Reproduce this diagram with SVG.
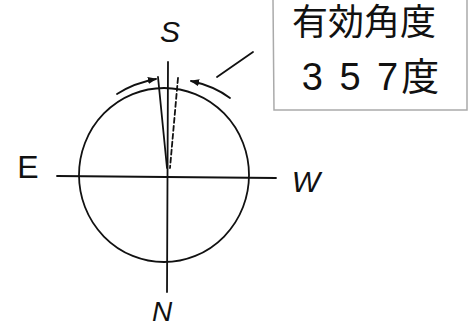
<svg xmlns="http://www.w3.org/2000/svg" width="468" height="326" viewBox="0 0 468 326">
<style>
.ln{stroke:#111;stroke-width:1.8;fill:none;stroke-linecap:round}
.lbl{font-family:"Liberation Sans","Noto Sans CJK JP",sans-serif;fill:#111}
</style>
<defs>
<marker id="ah" viewBox="0 0 10 10" refX="9" refY="5" markerWidth="5" markerHeight="5" orient="auto-start-reverse">
<path d="M0,1 L10,5 L0,9 z" fill="#111"/>
</marker>
</defs>
<rect width="468" height="326" fill="#fff"/>
<g id="compass">
<ellipse class="ln" cx="164" cy="175" rx="85" ry="87"/>
</g>
<g id="connectors">
<line class="ln" x1="57" y1="176" x2="276" y2="178"/>
<line class="ln" x1="168" y1="62" x2="167" y2="292"/>
<line class="ln" x1="158" y1="77" x2="167" y2="168" stroke-width="1.3"/>
<line class="ln" x1="178" y1="78" x2="170" y2="168" stroke-width="1.2" stroke-dasharray="5,3"/>
<path class="ln" d="M117,94 Q134,83 156,79" marker-end="url(#ah)"/>
<path class="ln" d="M230,98 Q214,86 191,81" marker-end="url(#ah)"/>
<line class="ln" x1="253" y1="52" x2="217" y2="77"/>
</g>
<g id="labels">
<text class="lbl" x="170" y="42" font-size="30" text-anchor="middle" font-style="italic">S</text>
<text class="lbl" x="28" y="178" font-size="32" text-anchor="middle">E</text>
<text class="lbl" x="306" y="192" font-size="30" text-anchor="middle" font-style="italic">W</text>
<text class="lbl" x="162" y="321" font-size="28" text-anchor="middle" font-style="italic">N</text>
</g>
<g id="note">
<path d="M273,0 L274,110 L467,110 L467,0" fill="none" stroke="#aaa" stroke-width="1.5"/>
<text class="lbl" x="364" y="35" font-size="36" text-anchor="middle">有効角度</text>
<text class="lbl" x="372" y="90" font-size="38" text-anchor="middle" letter-spacing="3">3 5 7度</text>
</g>
</svg>
